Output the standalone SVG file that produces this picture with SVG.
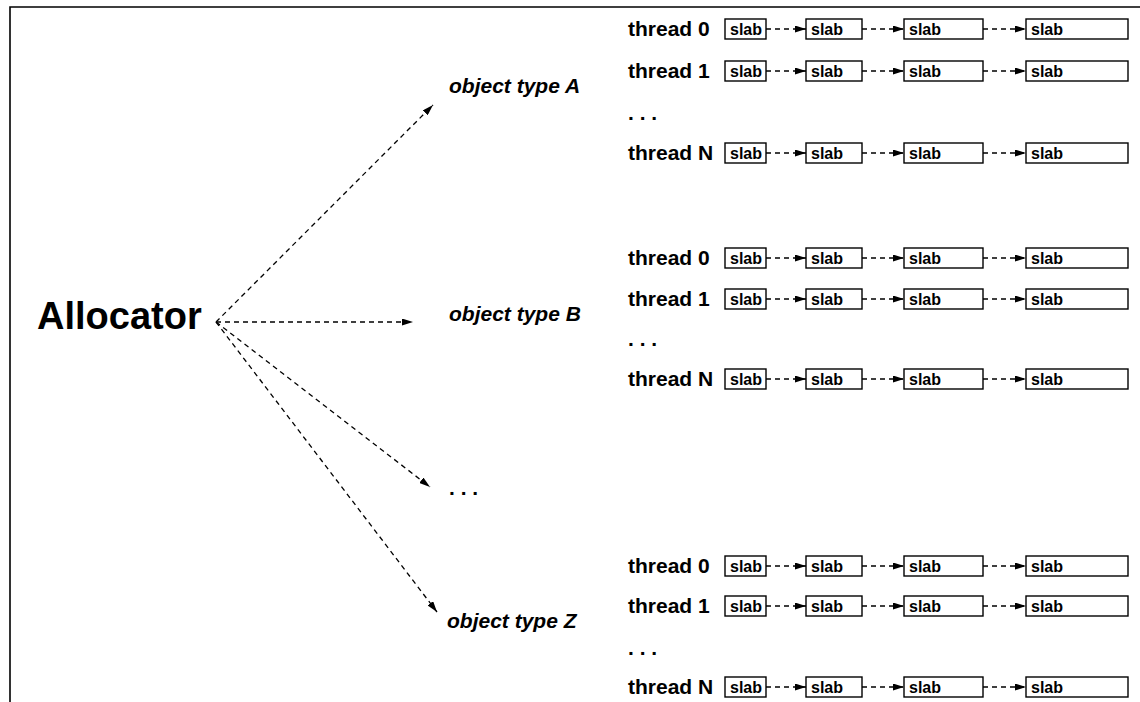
<svg xmlns="http://www.w3.org/2000/svg" width="1140" height="702" viewBox="0 0 1140 702">
<defs>
<style>
.box{fill:#fff;stroke:#000;stroke-width:1.4}
.st{font-family:"Liberation Sans",Arial,sans-serif;font-weight:bold;font-size:16px;fill:#000}
.th{font-family:"Liberation Sans",Arial,sans-serif;font-weight:bold;font-size:21px;fill:#000}
.ot{font-family:"Liberation Sans",Arial,sans-serif;font-weight:bold;font-style:italic;font-size:21px;fill:#000}
.al{font-family:"Liberation Sans",Arial,sans-serif;font-weight:bold;font-size:38px;fill:#000}
.c{fill:none;stroke:#000;stroke-width:1.3;stroke-dasharray:5,4;marker-end:url(#ah)}
.frame{fill:none;stroke:#000;stroke-width:1.6}
</style>
<marker id="ah" markerWidth="11" markerHeight="7" refX="11" refY="3.5" orient="auto" markerUnits="userSpaceOnUse">
<path d="M0,0 L11,3.5 L0,7 z" fill="#000"/>
</marker>
</defs>
<rect width="1140" height="702" fill="#fff"/>
<path class="frame" d="M10,702 L10,7 L1140,7"/>

<g id="allocator"><text class="al" x="37" y="329">Allocator</text></g>
<g id="typeA"><text class="ot" x="449" y="93">object type A</text></g>
<g id="typeB"><text class="ot" x="449" y="321">object type B</text></g>
<g id="typeDots"><text class="th" x="449" y="495">. . .</text></g>
<g id="typeZ"><text class="ot" x="447" y="628">object type Z</text></g>

<!-- Group A -->
<g id="A-t0"><text class="th" x="628" y="36">thread 0</text>
<rect class="box" x="725" y="19" width="41" height="20"/><text class="st" x="730" y="35">slab</text>
<rect class="box" x="806" y="19" width="56" height="20"/><text class="st" x="811" y="35">slab</text>
<rect class="box" x="904" y="19" width="79" height="20"/><text class="st" x="909" y="35">slab</text>
<rect class="box" x="1026" y="19" width="102" height="20"/><text class="st" x="1031" y="35">slab</text></g>
<g id="A-t1"><text class="th" x="628" y="78">thread 1</text>
<rect class="box" x="725" y="61" width="41" height="20"/><text class="st" x="730" y="77">slab</text>
<rect class="box" x="806" y="61" width="56" height="20"/><text class="st" x="811" y="77">slab</text>
<rect class="box" x="904" y="61" width="79" height="20"/><text class="st" x="909" y="77">slab</text>
<rect class="box" x="1026" y="61" width="102" height="20"/><text class="st" x="1031" y="77">slab</text></g>
<g id="A-dots"><text class="th" x="628" y="120">. . .</text></g>
<g id="A-tN"><text class="th" x="628" y="160">thread N</text>
<rect class="box" x="725" y="143" width="41" height="20"/><text class="st" x="730" y="159">slab</text>
<rect class="box" x="806" y="143" width="56" height="20"/><text class="st" x="811" y="159">slab</text>
<rect class="box" x="904" y="143" width="79" height="20"/><text class="st" x="909" y="159">slab</text>
<rect class="box" x="1026" y="143" width="102" height="20"/><text class="st" x="1031" y="159">slab</text></g>

<!-- Group B -->
<g id="B-t0"><text class="th" x="628" y="265">thread 0</text>
<rect class="box" x="725" y="248" width="41" height="20"/><text class="st" x="730" y="264">slab</text>
<rect class="box" x="806" y="248" width="56" height="20"/><text class="st" x="811" y="264">slab</text>
<rect class="box" x="904" y="248" width="79" height="20"/><text class="st" x="909" y="264">slab</text>
<rect class="box" x="1026" y="248" width="102" height="20"/><text class="st" x="1031" y="264">slab</text></g>
<g id="B-t1"><text class="th" x="628" y="306">thread 1</text>
<rect class="box" x="725" y="289" width="41" height="20"/><text class="st" x="730" y="305">slab</text>
<rect class="box" x="806" y="289" width="56" height="20"/><text class="st" x="811" y="305">slab</text>
<rect class="box" x="904" y="289" width="79" height="20"/><text class="st" x="909" y="305">slab</text>
<rect class="box" x="1026" y="289" width="102" height="20"/><text class="st" x="1031" y="305">slab</text></g>
<g id="B-dots"><text class="th" x="628" y="346">. . .</text></g>
<g id="B-tN"><text class="th" x="628" y="386">thread N</text>
<rect class="box" x="725" y="369" width="41" height="20"/><text class="st" x="730" y="385">slab</text>
<rect class="box" x="806" y="369" width="56" height="20"/><text class="st" x="811" y="385">slab</text>
<rect class="box" x="904" y="369" width="79" height="20"/><text class="st" x="909" y="385">slab</text>
<rect class="box" x="1026" y="369" width="102" height="20"/><text class="st" x="1031" y="385">slab</text></g>

<!-- Group Z -->
<g id="Z-t0"><text class="th" x="628" y="573">thread 0</text>
<rect class="box" x="725" y="556" width="41" height="20"/><text class="st" x="730" y="572">slab</text>
<rect class="box" x="806" y="556" width="56" height="20"/><text class="st" x="811" y="572">slab</text>
<rect class="box" x="904" y="556" width="79" height="20"/><text class="st" x="909" y="572">slab</text>
<rect class="box" x="1026" y="556" width="102" height="20"/><text class="st" x="1031" y="572">slab</text></g>
<g id="Z-t1"><text class="th" x="628" y="613">thread 1</text>
<rect class="box" x="725" y="596" width="41" height="20"/><text class="st" x="730" y="612">slab</text>
<rect class="box" x="806" y="596" width="56" height="20"/><text class="st" x="811" y="612">slab</text>
<rect class="box" x="904" y="596" width="79" height="20"/><text class="st" x="909" y="612">slab</text>
<rect class="box" x="1026" y="596" width="102" height="20"/><text class="st" x="1031" y="612">slab</text></g>
<g id="Z-dots"><text class="th" x="628" y="655">. . .</text></g>
<g id="Z-tN"><text class="th" x="628" y="694">thread N</text>
<rect class="box" x="725" y="677" width="41" height="20"/><text class="st" x="730" y="693">slab</text>
<rect class="box" x="806" y="677" width="56" height="20"/><text class="st" x="811" y="693">slab</text>
<rect class="box" x="904" y="677" width="79" height="20"/><text class="st" x="909" y="693">slab</text>
<rect class="box" x="1026" y="677" width="102" height="20"/><text class="st" x="1031" y="693">slab</text></g>

<g id="connectors">
<path class="c" d="M216,322 L433,105"/>
<path class="c" d="M216,322 L413,322"/>
<path class="c" d="M216,322 L430,487"/>
<path class="c" d="M216,322 L437,612"/>

<path class="c" d="M766,29 L806,29"/><path class="c" d="M862,29 L904,29"/><path class="c" d="M983,29 L1026,29"/>
<path class="c" d="M766,71 L806,71"/><path class="c" d="M862,71 L904,71"/><path class="c" d="M983,71 L1026,71"/>
<path class="c" d="M766,153 L806,153"/><path class="c" d="M862,153 L904,153"/><path class="c" d="M983,153 L1026,153"/>

<path class="c" d="M766,258 L806,258"/><path class="c" d="M862,258 L904,258"/><path class="c" d="M983,258 L1026,258"/>
<path class="c" d="M766,299 L806,299"/><path class="c" d="M862,299 L904,299"/><path class="c" d="M983,299 L1026,299"/>
<path class="c" d="M766,379 L806,379"/><path class="c" d="M862,379 L904,379"/><path class="c" d="M983,379 L1026,379"/>

<path class="c" d="M766,566 L806,566"/><path class="c" d="M862,566 L904,566"/><path class="c" d="M983,566 L1026,566"/>
<path class="c" d="M766,606 L806,606"/><path class="c" d="M862,606 L904,606"/><path class="c" d="M983,606 L1026,606"/>
<path class="c" d="M766,687 L806,687"/><path class="c" d="M862,687 L904,687"/><path class="c" d="M983,687 L1026,687"/>
</g>
</svg>
